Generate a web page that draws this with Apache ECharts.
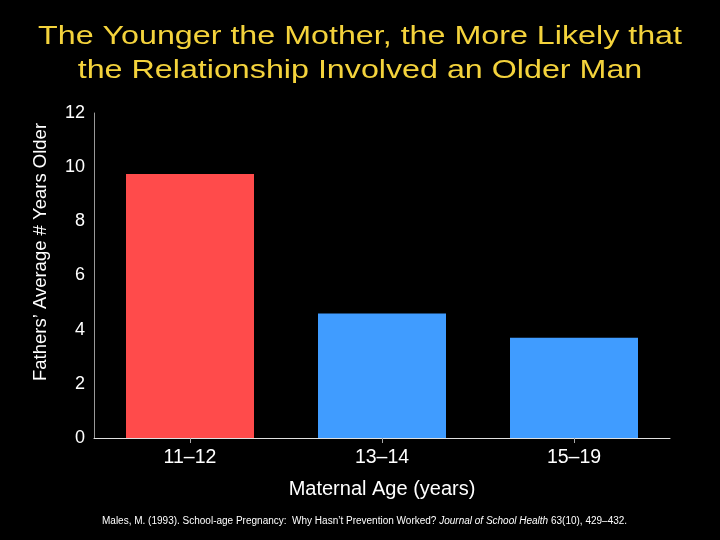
<!DOCTYPE html>
<html>
<head>
<meta charset="utf-8">
<script src="https://cdn.jsdelivr.net/npm/echarts@6/dist/echarts.min.js"></script>
<style>
  html, body { margin: 0; padding: 0; background: #000; }
  #chart { width: 720px; height: 540px; }
</style>
</head>
<body>
<div id="chart"></div>
<script>
const categories = ['11\u201312', '13\u201314', '15\u201319'];
const yearsOlder = [9.75, 4.6, 3.7];
const barColors = ['#ff4b4b', '#409cff', '#409cff'];
const titleLines = [
  'The Younger the Mother, the More Likely that',
  'the Relationship Involved an Older Man'
];
const yName = 'Fathers\u2019 Average # Years Older';

const chart = echarts.init(document.getElementById('chart'));
const font = 'Liberation Sans, Arial, sans-serif';

// title is drawn a bit wider than the font, like the original slide
const titleText = titleLines.map((line, i) => ({
  type: 'text',
  x: 360,
  y: 37 + i * 34,
  scaleX: 1.24,
  style: {
    text: line,
    fill: '#f4d33c',
    font: '26px ' + font,
    align: 'center',
    verticalAlign: 'middle'
  }
}));

// y axis name sits above the middle of the axis in the original
const yNameText = {
  type: 'text',
  x: 41,
  y: 252,
  rotation: Math.PI / 2,
  style: {
    text: yName,
    fill: '#fff',
    font: '18.5px ' + font,
    align: 'center',
    verticalAlign: 'middle'
  }
};

chart.setOption({
  backgroundColor: '#000',
  textStyle: { fontFamily: font },
  graphic: titleText.concat([yNameText]),
  title: {
    text: '{n|Males, M. (1993). School-age Pregnancy:  Why Hasn\u2019t Prevention Worked? }{i|Journal of School Health}{n| 63(10), 429\u2013432.}',
    left: 97,
    top: 511,
    textStyle: {
      fontWeight: 'normal',
      rich: {
        n: { color: '#fff', fontSize: 10, fontWeight: 'normal', fontFamily: font },
        i: { color: '#fff', fontSize: 10, fontWeight: 'normal', fontStyle: 'italic', fontFamily: font }
      }
    }
  },
  grid: { left: 94, right: 50, top: 113, bottom: 102 },
  xAxis: {
    type: 'category',
    data: categories,
    name: 'Maternal Age (years)',
    nameLocation: 'middle',
    nameGap: 41,
    nameTextStyle: { color: '#fff', fontSize: 20, fontFamily: font },
    axisLine: { lineStyle: { color: '#e0e0e0', width: 1 } },
    axisTick: { show: true, alignWithLabel: true, length: 5, lineStyle: { color: '#aaa' } },
    axisLabel: { color: '#fff', fontSize: 19.5, margin: 10 }
  },
  yAxis: {
    type: 'value',
    min: 0,
    max: 12,
    interval: 2,
    axisLine: { show: true, lineStyle: { color: '#999', width: 1 } },
    axisTick: { show: false },
    splitLine: { show: false },
    axisLabel: { color: '#fff', fontSize: 18, margin: 9 }
  },
  series: [
    {
      type: 'bar',
      data: yearsOlder.map((v, i) => ({ value: v, itemStyle: { color: barColors[i] } })),
      barWidth: 128,
      silent: true
    }
  ]
});
</script>
</body>
</html>
